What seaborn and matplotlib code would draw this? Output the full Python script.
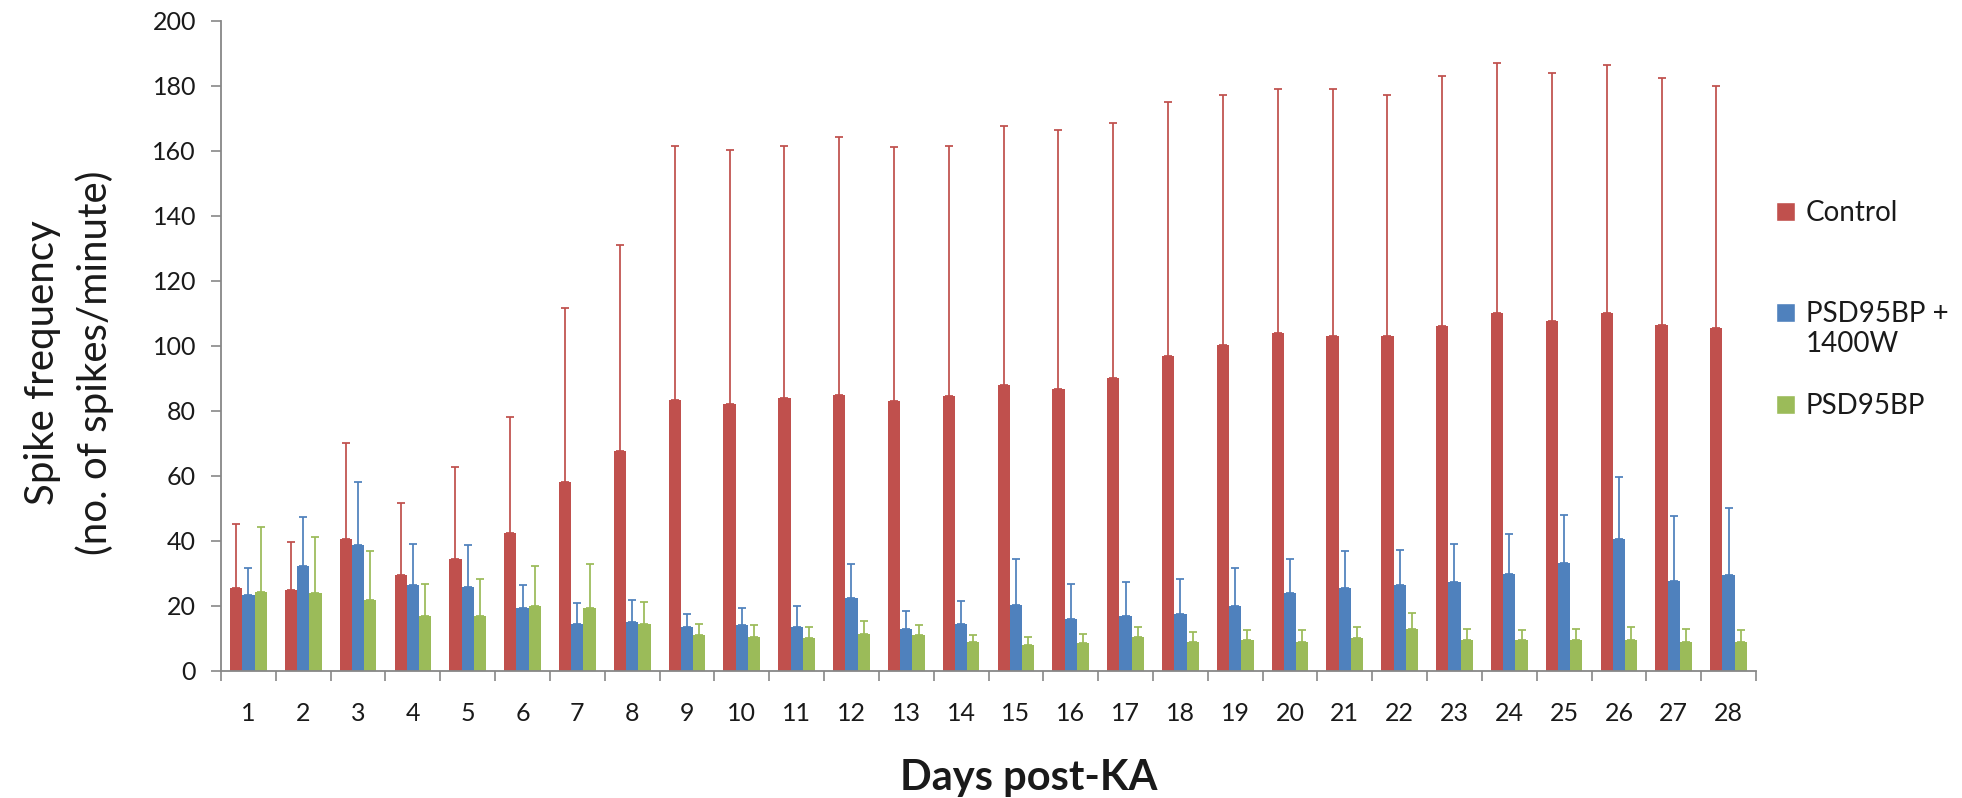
import matplotlib
matplotlib.use("Agg")
import matplotlib.pyplot as plt
from matplotlib.patches import Patch
from matplotlib.ticker import MultipleLocator, FixedLocator, NullFormatter
import numpy as np
import pandas as pd
import seaborn as sns

# ---------------- data ----------------
days = [str(d) for d in range(1, 29)]
groups = ["Control", "PSD95BP + 1400W", "PSD95BP"]
colors = ["#C0504D", "#4F81BD", "#9BBB59"]

control_mean = [25.4, 25.0, 40.5, 29.5, 34.4, 42.4, 58.2, 67.6, 83.5, 82.0,
                84.1, 85.0, 83.1, 84.6, 88.1, 86.6, 90.0, 97.0, 100.4, 104.0,
                103.0, 103.0, 106.0, 110.0, 107.5, 110.0, 106.5, 105.5]
control_err = [19.9, 14.8, 29.6, 22.2, 28.3, 35.7, 53.3, 63.3, 78.1, 78.1,
               77.5, 79.1, 78.1, 77.0, 79.4, 79.9, 78.6, 77.9, 76.6, 75.0,
               76.0, 74.0, 77.0, 77.0, 76.5, 76.4, 75.9, 74.5]

combo_mean = [23.5, 32.4, 38.8, 26.5, 25.8, 19.5, 14.4, 15.0, 13.4, 14.0,
              13.4, 22.4, 12.9, 14.4, 20.3, 15.9, 16.9, 17.4, 19.9, 23.9,
              25.4, 26.3, 27.3, 29.8, 33.3, 40.7, 27.8, 29.4]
combo_err = [8.3, 14.9, 19.4, 12.7, 12.9, 6.8, 6.5, 6.8, 4.0, 5.3,
             6.5, 10.4, 5.5, 7.0, 14.0, 11.0, 10.4, 10.9, 11.9, 10.4,
             11.4, 11.0, 11.9, 12.4, 14.8, 19.0, 19.9, 20.8]

psd_mean = [24.4, 24.0, 21.9, 16.9, 16.9, 20.0, 19.5, 14.4, 11.0, 10.4,
            10.0, 11.5, 11.0, 8.9, 8.0, 8.5, 10.4, 8.9, 9.5, 8.9,
            10.0, 12.9, 9.5, 9.5, 9.5, 9.5, 8.9, 8.9]
psd_err = [19.9, 17.3, 14.9, 10.0, 11.4, 12.2, 13.3, 6.9, 3.4, 3.6,
           3.4, 4.0, 3.0, 2.1, 2.4, 3.0, 3.0, 3.0, 3.0, 3.6,
           3.4, 4.9, 3.4, 3.0, 3.4, 3.9, 4.0, 3.6]

y_ticks = [0, 20, 40, 60, 80, 100, 120, 140, 160, 180, 200]

means = [control_mean, combo_mean, psd_mean]
errs = [control_err, combo_err, psd_err]

df = pd.DataFrame({
    "day": days * 3,
    "group": [g for g in groups for _ in days],
    "value": control_mean + combo_mean + psd_mean,
})

# ---------------- style ----------------
sns.set_style("ticks")
plt.rcParams["font.family"] = ["Lato", "DejaVu Sans"]
text_color = "#1a1a1a"
spine_color = "#878787"

fig = plt.figure(figsize=(19.62, 7.98), dpi=100)
ax = fig.add_axes([0.11264, 0.15915, 0.78237, 0.8149])

sns.barplot(data=df, x="day", y="value", hue="group", order=days,
            hue_order=groups, palette=colors, width=0.67, saturation=1,
            errorbar=None, linewidth=0, ax=ax)

# one-sided (upper) error bars at the bar centres
for cont, m, e, c in zip(ax.containers, means, errs, colors):
    xs = [p.get_x() + p.get_width() / 2 for p in cont.patches]
    ax.errorbar(xs, m, yerr=[np.zeros(len(e)), e], fmt="none", ecolor=c,
                elinewidth=1.4, capsize=3, capthick=1.4, alpha=0.9, zorder=3)

ax.set_ylim(0, 200)
ax.set_xlim(-0.5, len(days) - 0.5)
ax.yaxis.set_major_locator(FixedLocator(y_ticks))

# excel-like category ticks between groups
ax.xaxis.set_minor_locator(FixedLocator(np.arange(-0.5, len(days), 1.0)))
ax.xaxis.set_minor_formatter(NullFormatter())
ax.tick_params(axis="x", which="major", length=0, pad=22, labelsize=18,
               labelcolor=text_color)
ax.tick_params(axis="x", which="minor", length=7, width=1.2, color=spine_color,
               direction="out")
ax.tick_params(axis="y", which="major", length=7, width=1.2, color=spine_color,
               direction="out", pad=11, labelsize=18, labelcolor=text_color)

sns.despine(ax=ax)
for s in ["left", "bottom"]:
    ax.spines[s].set_color(spine_color)
    ax.spines[s].set_linewidth(1.3)

ax.set_xlabel("")
ax.set_ylabel("")

fig.text(0.0352, 0.545, "Spike frequency\n(no. of spikes/minute)",
         rotation=90, ha="center", va="center", fontsize=29,
         color=text_color, linespacing=1.45, multialignment="center")
fig.text(0.5245, 0.010, "Days post-KA", ha="center", va="baseline",
         fontsize=30, fontweight="bold", color=text_color)

# legend (three blocks, as in the original)
leg = ax.get_legend()
if leg is not None:
    leg.remove()

common = dict(frameon=False, fontsize=20, handlelength=0.68, handleheight=0.68,
              handletextpad=0.4, borderpad=0, borderaxespad=0,
              loc="center left", bbox_transform=fig.transFigure,
              labelcolor=text_color)
x_leg = 1776 / 1962
legA = fig.legend([Patch(facecolor=colors[0])], [groups[0]],
                  bbox_to_anchor=(x_leg, 1 - 213 / 798), **common)
legB = fig.legend([Patch(facecolor=colors[1]), Patch(facecolor="none", edgecolor="none")],
                  ["PSD95BP +", "1400W"], labelspacing=0.15,
                  bbox_to_anchor=(x_leg, 1 - 329 / 798), **common)
legC = fig.legend([Patch(facecolor=colors[2])], [groups[2]],
                  bbox_to_anchor=(x_leg, 1 - 406 / 798), **common)

fig.savefig("out.png", dpi=100)
